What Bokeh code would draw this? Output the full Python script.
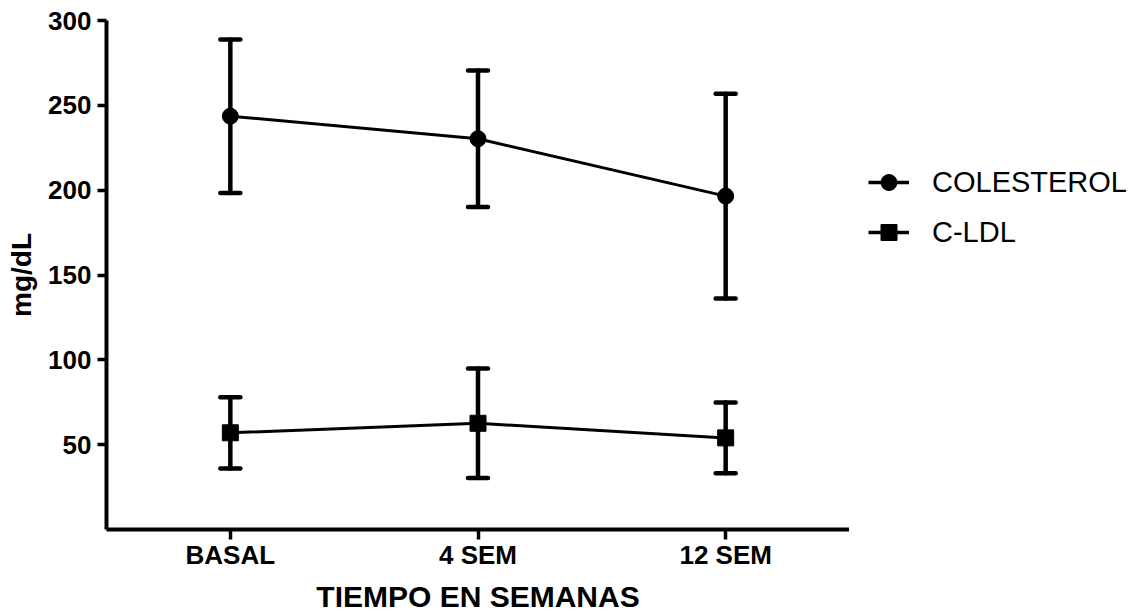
from bokeh.plotting import figure
from bokeh.layouts import row
from bokeh.models import (ColumnDataSource, Whisker, TeeHead, Legend, LegendItem,
                          FactorRange, Range1d, FixedTicker)
from bokeh.embed import file_html
from bokeh.resources import INLINE

categories = ["BASAL", "4 SEM", "12 SEM"]
col_mean = [243.6, 230.3, 196.5]
col_sd = [45.2, 40.2, 60.4]
ldl_mean = [57.0, 62.6, 54.0]
ldl_sd = [21.0, 32.3, 20.8]
y_ticks = [50, 100, 150, 200, 250, 300]
series_names = ["COLESTEROL", "C-LDL"]

FONT = "Liberation Sans"

def make_src(mean, sd):
    return ColumnDataSource(dict(
        x=categories, y=mean,
        upper=[m + s for m, s in zip(mean, sd)],
        lower=[m - s for m, s in zip(mean, sd)],
    ))

src_col = make_src(col_mean, col_sd)
src_ldl = make_src(ldl_mean, ldl_sd)

p = figure(width=849, height=616, x_range=FactorRange(*categories),
           y_range=Range1d(0, 300), output_backend="svg", toolbar_location=None,
           min_border_left=106, min_border_right=0, min_border_top=20,
           min_border_bottom=87)
p.outline_line_color = None
p.grid.visible = False
p.background_fill_color = "white"

for src in (src_col, src_ldl):
    w = Whisker(source=src, base="x", upper="upper", lower="lower",
                line_width=4.5, line_color="black", line_cap="round",
                upper_head=TeeHead(size=20, line_width=4.5, line_color="black", line_cap="round"),
                lower_head=TeeHead(size=20, line_width=4.5, line_color="black", line_cap="round"))
    p.add_layout(w)

p.line("x", "y", source=src_col, line_width=3, line_color="black")
p.scatter("x", "y", source=src_col, marker="circle", size=16,
          fill_color="black", line_color="black")
p.line("x", "y", source=src_ldl, line_width=3, line_color="black")
p.scatter("x", "y", source=src_ldl, marker="square", size=16,
          fill_color="black", line_color="black")

for ax in (p.xaxis[0], p.yaxis[0]):
    ax.axis_line_width = 4
    ax.axis_line_color = "black"
    ax.major_tick_line_width = 3.5
    ax.major_tick_line_color = "black"
    ax.major_tick_in = 0
    ax.minor_tick_line_color = None
    ax.major_label_text_font = FONT
    ax.major_label_text_font_style = "bold"
    ax.major_label_text_font_size = "26px"
    ax.major_label_text_color = "black"
    ax.axis_label_text_font = FONT
    ax.axis_label_text_font_style = "bold"
    ax.axis_label_text_color = "black"

p.xaxis.major_tick_out = 10
p.xaxis.major_label_standoff = 0
p.xaxis.axis_label = "TIEMPO EN SEMANAS"
p.xaxis.axis_label_text_font_size = "30px"
p.xaxis.axis_label_standoff = 7

p.yaxis.ticker = FixedTicker(ticks=y_ticks)
p.yaxis.major_tick_out = 9
p.yaxis.major_label_standoff = 6
p.yaxis.axis_label = "mg/dL"
p.yaxis.axis_label_text_font_size = "28px"
p.yaxis.axis_label_standoff = 8

# legend panel (same series, drawn outside its visible range; only legend shows)
pl = figure(width=295, height=616, x_range=FactorRange(*categories),
            y_range=Range1d(1000, 1001),
            output_backend="svg", toolbar_location=None,
            x_axis_type=None, y_axis_type=None,
            min_border_left=0, min_border_right=0, min_border_top=0, min_border_bottom=0)
pl.outline_line_color = None
pl.grid.visible = False
la = pl.line("x", "y", source=src_col, line_width=3.5, line_color="black")
sa = pl.scatter("x", "y", source=src_col, marker="circle", size=14,
                fill_color="black", line_color="black")
lb = pl.line("x", "y", source=src_ldl, line_width=3.5, line_color="black")
sb = pl.scatter("x", "y", source=src_ldl, marker="square", size=14,
                fill_color="black", line_color="black")

legend = Legend(items=[
    LegendItem(label=series_names[0], renderers=[la, sa]),
    LegendItem(label=series_names[1], renderers=[lb, sb]),
], location=(19, 277), orientation="vertical",
    glyph_width=41, glyph_height=40, label_height=40, spacing=10,
    label_standoff=23, padding=0, margin=0,
    border_line_color=None, background_fill_alpha=0,
    label_text_font=FONT, label_text_font_size="29px", label_text_color="black")
pl.add_layout(legend, "center")

layout = row(p, pl, spacing=0)
open("out.html", "w").write(file_html(layout, INLINE))
